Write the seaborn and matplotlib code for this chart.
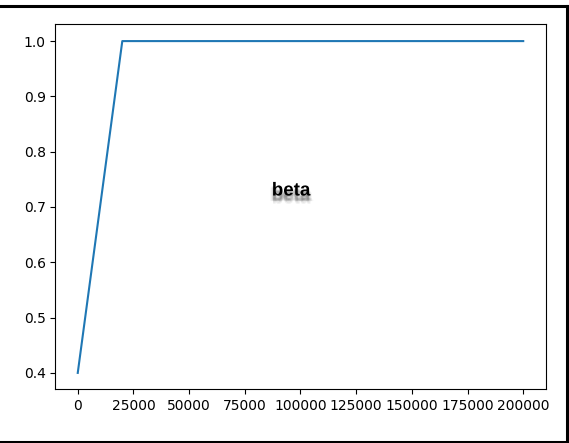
import matplotlib
matplotlib.use("Agg")
import matplotlib.pyplot as plt
import matplotlib.patheffects as pe
import pandas as pd
import seaborn as sns

# Annealing schedule for beta over training steps
steps = [0, 20000, 200000]
beta = [0.4, 1.0, 1.0]
yticks = [0.4, 0.5, 0.6, 0.7, 0.8, 0.9, 1.0]
xticks = [0, 25000, 50000, 75000, 100000, 125000, 150000, 175000, 200000]

df = pd.DataFrame({"step": steps, "beta": beta})

fig = plt.figure(figsize=(5.69, 4.43), dpi=100)
ax = fig.add_axes([0.0975, 0.1208, 0.9587 - 0.0975, 0.9447 - 0.1208])

sns.lineplot(data=df, x="step", y="beta", ax=ax, color="#1f77b4", linewidth=1.5)
ax.set_xticks(xticks)
ax.set_yticks(yticks)
ax.set_xlabel("")
ax.set_ylabel("")
ax.tick_params(labelsize=10)

# Title word with a soft drop shadow built from stacked shadow effects
shadow = []
for dx, dy, a in [(0, -4, 0.10), (1, -4, 0.07), (-1, -4, 0.07), (0, -3, 0.10),
                  (0, -5, 0.07), (1, -3, 0.06), (-1, -3, 0.06), (0, -6, 0.05),
                  (2, -4, 0.04), (-2, -4, 0.04)]:
    shadow.append(pe.SimplePatchShadow(offset=(dx, dy), shadow_rgbFace="black", alpha=a))
shadow.append(pe.Normal())
fig.text(291 / 569, 1 - 191 / 443, "beta", ha="center", va="center",
         fontsize=13.5, fontweight="bold", family="Liberation Sans",
         color="black", path_effects=shadow)

# Frame lines around the figure (top, right, bottom)
fig.add_artist(plt.Line2D([0, 568 / 569], [1 - 6 / 443, 1 - 6 / 443],
                          transform=fig.transFigure, color="black", linewidth=2.2))
fig.add_artist(plt.Line2D([567 / 569, 567 / 569], [1 - 6 / 443, 1 - 441.5 / 443],
                          transform=fig.transFigure, color="black", linewidth=2.2))
fig.add_artist(plt.Line2D([0, 568 / 569], [1 - 441.5 / 443, 1 - 441.5 / 443],
                          transform=fig.transFigure, color="black", linewidth=2.2))

fig.savefig("out.png", dpi=100)
